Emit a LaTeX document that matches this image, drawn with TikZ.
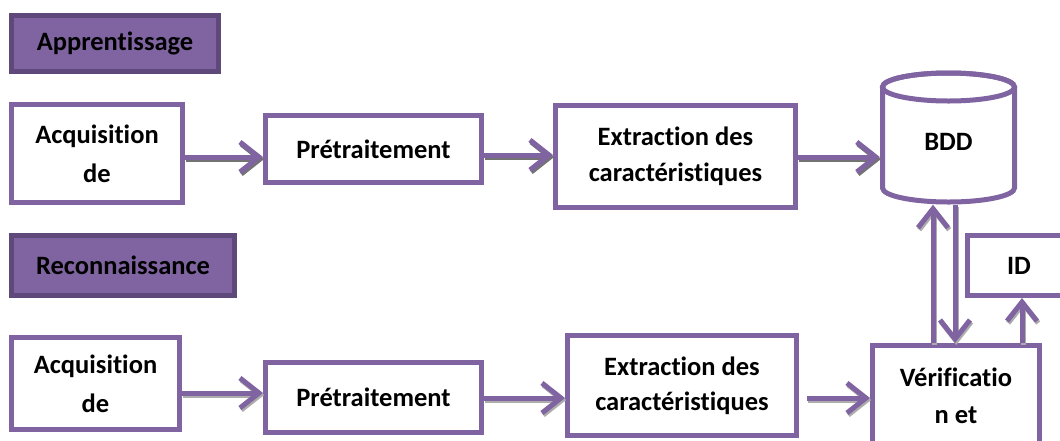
\documentclass[tikz,border=0pt]{standalone}
\usepackage{fontspec}
\setmainfont{Carlito}[Ligatures=NoCommon]
\usetikzlibrary{arrows.meta,shadows}
\definecolor{purp}{HTML}{8064A2}
\definecolor{purpdark}{HTML}{5F497A}
% a connector drawn over its own grey shadow
\newcommand\flowarrow[3][gray!65]{%
  \draw[conn, draw=#1, transform canvas={shift={(1.2pt,-2pt)}}] #2 -- #3;
  \draw[conn] #2 -- #3;}
\begin{document}
\begin{tikzpicture}[x=1pt,y=-1pt,
  txt/.style={font=\bfseries\fontsize{26.5}{38}\selectfont, align=center},
  box/.style={txt, draw=purp, line width=5pt, fill=white, inner sep=0pt},
  boxshadow/.style={drop shadow={shadow xshift=-2.5pt, shadow yshift=-2.5pt, fill=purpdark, opacity=0.6}},
  phase/.style={txt, draw=purpdark, line width=5pt, fill=purp, inner sep=0pt},
  conn/.style={draw=purp, line width=5pt, -{Straight Barb[length=19pt,width=30pt]}}
]
\useasboundingbox (0,0) rectangle (1060,440);

% phase headers
\node[phase, minimum width=207, minimum height=56] (learn) at (115,43.5) {Apprentissage};
\node[phase, minimum width=223, minimum height=60] (recog) at (123,265.5) {Reconnaissance};

% learning chain
\node[box, boxshadow, minimum width=171, minimum height=98, font=\bfseries\fontsize{26.5}{39}\selectfont] (acqA) at (97,153.5) {Acquisition\\de};
\node[box, boxshadow, minimum width=216, minimum height=67] (preA) at (373.5,149) {Prétraitement};
\node[box, boxshadow, minimum width=240, minimum height=102, font=\bfseries\fontsize{26.5}{36}\selectfont] (extA) at (675.5,156.5) {Extraction des\\caractéristiques};

% database cylinder
\node[minimum width=137, minimum height=134, inner sep=0pt] (bdd) at (948.5,137.5) {};
\draw[purp, line width=5pt, fill=white]
  (882.5,87) -- (882.5,188) arc[start angle=180, end angle=0, x radius=66, y radius=14]
  -- (1014.5,87) arc[start angle=0, end angle=-180, x radius=66, y radius=14] -- cycle;
\draw[purp, line width=5pt] (948.5,87) ellipse[x radius=66, y radius=14];
\node[txt] (bddtxt) at (948.5,142) {BDD};

% recognition chain
\node[box, minimum width=168, minimum height=92, font=\bfseries\fontsize{26.5}{39}\selectfont] (acqB) at (95.5,383.5) {Acquisition\\de};
\node[box, minimum width=216, minimum height=70] (preB) at (373.5,397.5) {Prétraitement};
\node[box, minimum width=229, minimum height=100, font=\bfseries\fontsize{26.5}{35}\selectfont] (extB) at (682,385.5) {Extraction des\\caractéristiques};
\node[box, minimum width=167, minimum height=101, font=\bfseries\fontsize{26.5}{37}\selectfont] (ver) at (956,396) {Vérificatio\\n et};
\node[box, minimum width=103, minimum height=60] (id) at (1019,265.5) {ID};

% connectors, learning
\flowarrow[gray!90!black]{(acqA.east |- 0,157)}{(preA.west |- 0,157)}
\flowarrow[gray!90!black]{(preA.east |- 0,155)}{(extA.west |- 0,155)}
\flowarrow[gray!90!black]{(extA.east |- 0,157)}{(bdd.west |- 0,157)}

% connectors, recognition
\flowarrow{(acqB.east |- 0,393)}{(preB.west |- 0,393)}
\flowarrow{(preB.east |- 0,398)}{(extB.west |- 0,398)}
\flowarrow{([xshift=8pt]extB.east |- 0,398)}{(ver.west |- 0,398)}
\flowarrow{(933,0 |- ver.north)}{(933,0 |- bdd.south)}
\flowarrow{(955,0 |- bdd.south)}{(955,0 |- ver.north)}
\flowarrow{(1022,0 |- ver.north)}{(1022,0 |- id.south)}
\end{tikzpicture}
\end{document}
